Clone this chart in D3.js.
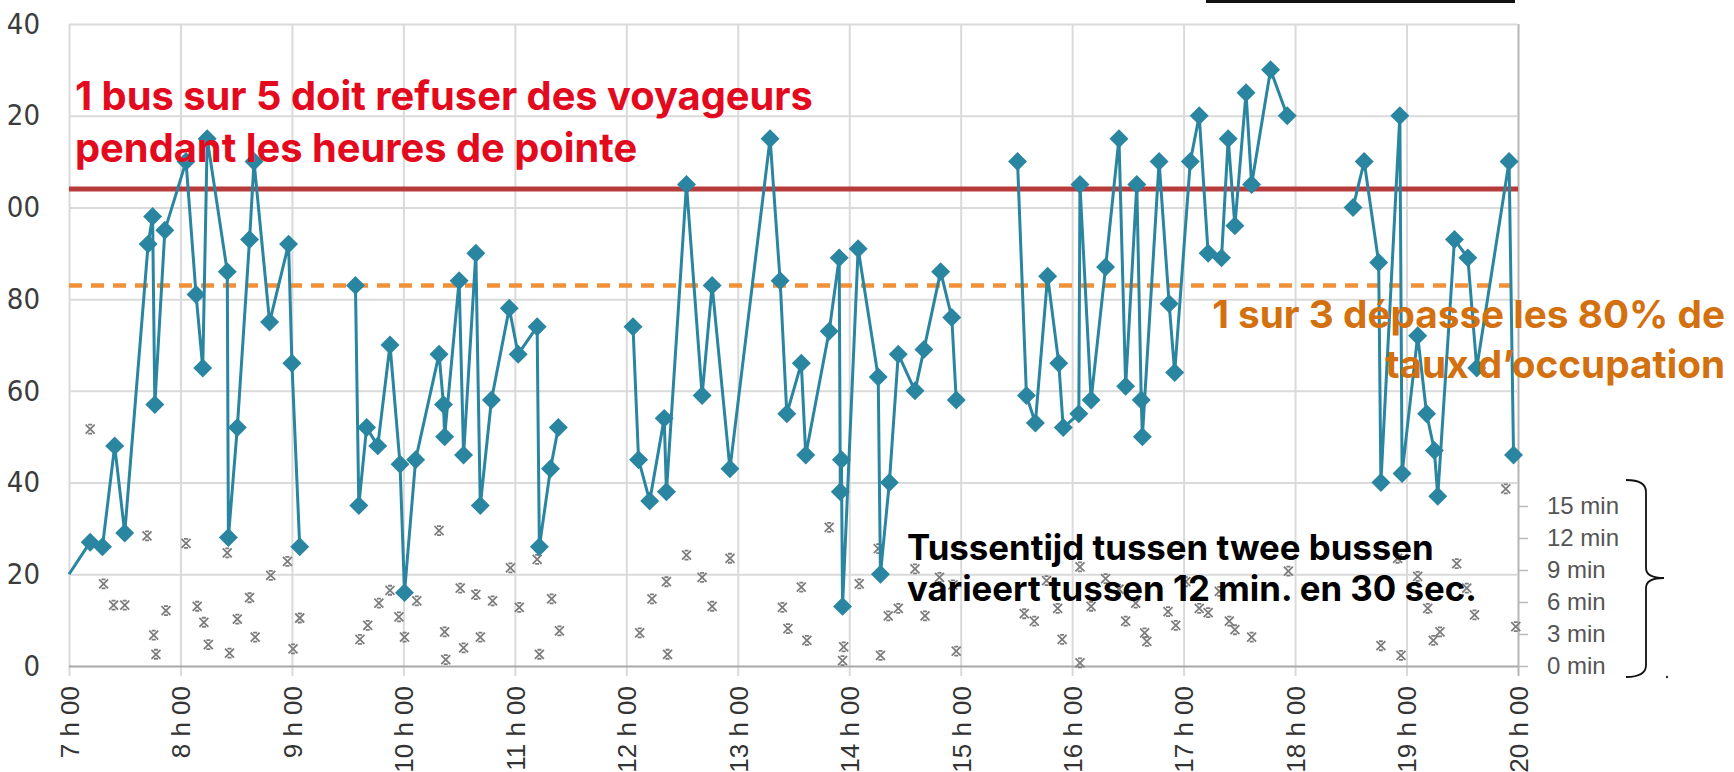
<!DOCTYPE html>
<html>
<head>
	<meta charset="utf-8">
	<title>Bezetting bussen</title>
	<script src="https://cdnjs.cloudflare.com/ajax/libs/d3/7.8.5/d3.min.js"></script>
	<style>
	*{
		margin:0;
		padding:0;
	}
	body { background:#fff; }
	svg { display:block; }
</style>
</head>
<body>

	<svg id="chart" width="1734" height="772"></svg>

	<script>
	// occupancy (%) of each bus passage, null = break in the line
	var busHour = [7.00,7.19,7.30,7.41,7.50,7.71,7.75,7.77,7.86,8.05,8.14,8.20,8.24,8.42,8.43,8.51,8.62,8.66,8.80,8.97,9.00,9.07, null,
		9.57,9.60,9.67,9.77,9.88,9.97,10.01,10.11,10.32,10.36,10.37,10.50,10.54,10.65,10.69,10.79,10.95,11.03,11.20,11.22,11.32,11.39, null,
		12.06,12.11,12.21,12.34,12.36,12.54,12.68,12.77,12.93,13.29,13.38,13.44,13.57,13.61,13.82,13.91,13.92,13.93,13.94,14.08,14.26,14.28,14.36,14.44,14.59,14.67,14.82,14.92,14.96, null,
		15.51,15.59,15.67,15.78,15.88,15.92,16.06,16.07,16.17,16.30,16.42,16.48,16.58,16.62,16.63,16.78,16.87,16.92,17.06,17.14,17.22,17.34,17.40,17.46,17.56,17.61,17.78,17.93, null,
		18.52,18.62,18.75,18.77,18.94,18.96,19.10,19.18,19.25,19.28,19.43,19.55,19.63,19.92,19.96];
	var busLoad = [20,27,26,48,29,92,98,57,95,110,81,65,115,86,28,52,93,110,75,92,66,26, null,
		83,35,52,48,70,44,16,45,68,57,50,84,46,90,35,58,78,68,74,26,43,52, null,
		74,45,36,54,38,105,59,83,43,115,84,55,66,46,73,89,38,45,13,91,63,20,40,68,60,69,86,76,58, null,
		110,59,53,85,66,52,55,105,58,87,115,61,105,58,50,110,79,64,110,120,90,89,115,96,125,105,130,120, null,
		100,110,88,40,120,42,72,55,47,37,93,89,65,110,46];

	// time between two buses (minutes, right axis)
	var gapHour = [7.19,7.31,7.40,7.50,7.70,7.76,7.78,7.87,8.05,8.15,8.21,8.25,8.42,8.44,8.51,8.62,8.67,8.81,8.96,9.01,9.07,
		9.61,9.68,9.78,9.88,9.96,10.01,10.12,10.32,10.37,10.38,10.51,10.54,10.65,10.69,10.80,10.96,11.04,11.20,11.22,11.33,11.40,
		12.12,12.23,12.36,12.37,12.54,12.68,12.77,12.93,13.40,13.45,13.57,13.62,13.82,13.94,13.95,14.09,14.26,14.28,14.35,14.44,14.59,14.68,14.81,14.93,14.96,
		15.57,15.66,15.77,15.87,15.91,16.07,16.07,16.17,16.30,16.42,16.48,16.57,16.65,16.67,16.86,16.93,17.02,17.14,17.22,17.32,17.41,17.46,17.61,17.94,
		18.77,18.92,18.95,19.10,19.19,19.24,19.30,19.45,19.54,19.61,19.89,19.98];
	var gapMin = [22.2,7.7,5.7,5.7,12.2,2.9,1.1,5.2,11.5,5.6,4.1,2.0,10.6,1.2,4.4,6.4,2.7,8.5,9.8,1.6,4.5,
		2.5,3.8,5.9,7.1,4.6,2.7,6.1,12.7,3.2,0.6,7.3,1.7,6.7,2.7,6.1,9.2,5.5,10.0,1.1,6.3,3.3,
		3.1,6.3,7.9,1.1,10.4,8.3,5.6,10.1,5.5,3.5,7.4,2.4,13.0,0.5,1.8,7.7,11.0,1.0,4.7,5.4,9.1,4.7,8.3,7.6,1.4,
		4.9,4.2,8.0,5.4,2.5,9.3,0.3,5.6,8.2,7.2,4.2,5.9,3.1,2.3,5.1,3.8,7.9,5.4,5.0,7.0,4.2,3.4,2.7,8.9,
		1.9,10.1,1.0,8.4,5.4,2.4,3.2,9.6,7.3,4.8,16.6,3.7];

	var hourTicks = d3.range(7, 21);
	var loadTicks = d3.range(0, 141, 20);
	var minuteTicks = [0, 3, 6, 9, 12, 15];
	var refuseLevel = 104;   // full bus
	var comfortLevel = 83;   // 80% occupation line

	var redText = ["1 bus sur 5 doit refuser des voyageurs", "pendant les heures de pointe"];
	var orangeText = ["1 sur 3 dépasse les 80% de", "taux d\u2019occupation"];
	var blackText = ["Tussentijd tussen twee bussen", "varieert tussen 12 min. en 30 sec."];

	var svg = d3.select("#chart");
	// note: "top" is taken by window.top, hence the longer names
	var plotL = 69, plotR = 1518, plotT = 24, plotB = 666;

	var x = d3.scaleLinear().domain([7, 20]).range([plotL, plotR]);
	var y = d3.scaleLinear().domain([0, 140]).range([plotB, plotT]);
	var yMin = d3.scaleLinear().domain([0, 60]).range([plotB, 26]);

	var axisFont = "'Liberation Sans', Arial, sans-serif";
	var narrowFont = "'Liberation Sans Narrow', 'DejaVu Sans Condensed', 'Liberation Sans', sans-serif";
	var noteFont = "Inter, 'Open Sans', sans-serif";

	// vertical grid + hour labels
	var gx = svg.append("g")
		.attr("transform", "translate(0," + plotB + ")")
		.call(d3.axisBottom(x).tickValues(hourTicks).tickSize(10).tickFormat(function(d){ return d + " h 00"; }));
	gx.select(".domain").remove();
	gx.selectAll(".tick line")
		.attr("y1", plotT - plotB)
		.attr("stroke", function(d){ return d == 20 ? "#b5b5b5" : "#dadada"; })
		.attr("stroke-width", 2);
	gx.selectAll(".tick text")
		.attr("transform", "rotate(-90)")
		.attr("x", -20).attr("y", 0).attr("dy", "0.36em")
		.attr("text-anchor", "end")
		.attr("font-family", axisFont).attr("font-size", 26)
		.attr("fill", "#333");

	// horizontal grid + left labels (left edge of the original picture is cropped)
	var gy = svg.append("g")
		.attr("transform", "translate(" + plotL + ",0)")
		.call(d3.axisLeft(y).tickValues(loadTicks).tickSize(10).tickPadding(19)
			.tickFormat(function(d){ return d >= 100 ? String(d).slice(1) : d; }));
	gy.select(".domain").remove();
	gy.selectAll(".tick line")
		.attr("x2", plotR - plotL)
		.attr("stroke", function(d){ return d == 0 ? "#a8a8a8" : "#dadada"; })
		.attr("stroke-width", 2);
	gy.selectAll(".tick text")
		.attr("font-family", narrowFont).attr("font-size", 29)
		.attr("fill", "#3c3c3c");

	// right axis in minutes
	var gr = svg.append("g")
		.attr("transform", "translate(" + plotR + ",0)")
		.call(d3.axisRight(yMin).tickValues(minuteTicks).tickSize(10).tickSizeOuter(0).tickPadding(19)
			.tickFormat(function(d){ return d + " min"; }));
	gr.select(".domain").remove();
	gr.selectAll(".tick line").attr("stroke", "#bbb").attr("stroke-width", 1.5);
	gr.selectAll(".tick text")
		.attr("font-family", axisFont).attr("font-size", 24)
		.attr("fill", "#555");

	// reference lines
	svg.append("line")
		.attr("x1", plotL).attr("x2", plotR)
		.attr("y1", y(refuseLevel)).attr("y2", y(refuseLevel))
		.attr("stroke", "#b83b3c").attr("stroke-width", 5);
	svg.append("line")
		.attr("x1", plotL).attr("x2", plotR)
		.attr("y1", y(comfortLevel)).attr("y2", y(comfortLevel))
		.attr("stroke", "#f0913a").attr("stroke-width", 4.5)
		.attr("stroke-dasharray", "13,9");

	// headway marks
	svg.append("g").selectAll("path")
		.data(gapHour)
		.enter().append("path")
		.attr("transform", function(d, i){ return "translate(" + x(d) + "," + yMin(gapMin[i]) + ")"; })
		.attr("d", "M-4.5,-4.5L4.5,4.5M-4.5,4.5L4.5,-4.5M-2,-4.5H2M-2,4.5H2")
		.attr("fill", "none")
		.attr("stroke", "#7d7d7d")
		.attr("stroke-width", 1.8);

	// occupancy line + diamonds
	var idx = d3.range(busHour.length);
	var line = d3.line()
		.defined(function(i){ return busLoad[i] != null; })
		.x(function(i){ return x(busHour[i]); })
		.y(function(i){ return y(busLoad[i]); });
	svg.append("path")
		.attr("d", line(idx))
		.attr("fill", "none")
		.attr("stroke", "#2a85a0")
		.attr("stroke-width", 3)
		.attr("stroke-linejoin", "round");

	var diamond = d3.symbol().type(d3.symbolSquare).size(180);
	svg.append("g").selectAll("path")
		// the first passage sits on the axis and shows no marker
		.data(idx.filter(function(i){ return busLoad[i] != null && busHour[i] > 7; }))
		.enter().append("path")
		.attr("d", diamond)
		.attr("transform", function(i){ return "translate(" + x(busHour[i]) + "," + y(busLoad[i]) + ") rotate(45)"; })
		.attr("fill", "#2a85a0");

	// annotations, font size fitted on the first line
	function note(lines, xPos, baselines, anchor, width, color, weight){
		var t = svg.append("g").selectAll("text")
			.data(lines)
			.enter().append("text")
			.attr("x", xPos)
			.attr("y", function(d, i){ return baselines[i]; })
			.attr("text-anchor", anchor)
			.attr("font-family", noteFont)
			.attr("font-weight", weight)
			.attr("font-size", 36)
			.attr("fill", color)
			.text(function(d){ return d; });
		var w = t.node().getComputedTextLength();
		t.attr("font-size", 36 * width / w);
	}
	note(redText, 75, [110, 162], "start", 738, "#e30a1e", 700);
	note(orangeText, 1725, [328, 378], "end", 513, "#d3700f", 700);
	note(blackText, 907, [560, 601], "start", 527, "#000", 700);

	// brace around the minutes axis
	svg.append("path")
		.attr("d", "M1626,480Q1646,480 1646,492L1646,568Q1646,578 1664,578Q1646,578 1646,588L1646,665Q1646,677 1626,677")
		.attr("fill", "none")
		.attr("stroke", "#111")
		.attr("stroke-width", 1.8);
	svg.append("circle").attr("cx", 1667).attr("cy", 677).attr("r", 1.2).attr("fill", "#333");

	// cropped legend frame at the top
	svg.append("rect")
		.attr("x", 1206).attr("y", 0)
		.attr("width", 309).attr("height", 3)
		.attr("fill", "#111");
</script>
</body>
</html>
